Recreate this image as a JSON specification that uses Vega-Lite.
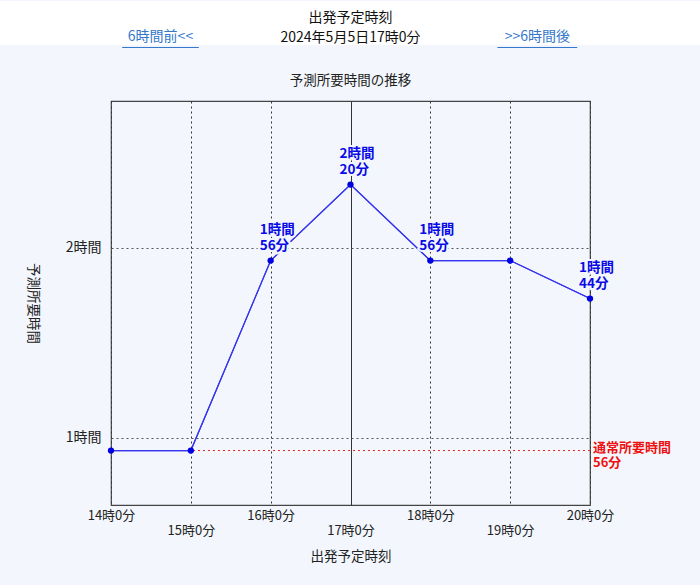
{
  "$schema": "https://vega.github.io/schema/vega-lite/v6.json",
  "width": 479,
  "height": 404,
  "autosize": {"type": "none"},
  "padding": {"left": 111, "top": 101, "right": 110, "bottom": 80},
  "background": "#f3f7fd",
  "config": {
    "font": "Noto Sans CJK JP",
    "view": {"stroke": "#444444", "strokeWidth": 1.2, "fill": "#f3f7fd"},
    "axis": {"labelFont": "Noto Sans CJK JP", "titleFont": "Noto Sans CJK JP", "labelColor": "#222222", "titleColor": "#222222", "labelFontSize": 13, "titleFontSize": 13.5, "titleFontWeight": "normal"}
  },
  "title": {
    "text": ["出発予定時刻", "2024年5月5日17時0分"],
    "subtitle": "予測所要時間の推移",
    "fontSize": 14,
    "fontWeight": "normal",
    "lineHeight": 20,
    "color": "#111111",
    "subtitleFontSize": 13.5,
    "subtitleColor": "#222222",
    "subtitlePadding": 29,
    "offset": -87,
    "anchor": "middle"
  },
  "datasets": {
    "series": [
      {"hour": 14, "minutes": 56, "label": ""},
      {"hour": 15, "minutes": 56, "label": ""},
      {"hour": 16, "minutes": 116, "label": "1時間\n56分"},
      {"hour": 17, "minutes": 140, "label": "2時間\n20分"},
      {"hour": 18, "minutes": 116, "label": "1時間\n56分"},
      {"hour": 19, "minutes": 116, "label": ""},
      {"hour": 20, "minutes": 104, "label": "1時間\n44分"}
    ],
    "normal": [
      {"hour": 20, "minutes": 56, "label": "通常所要時間\n56分"}
    ],
    "band": [
      {"h1": 12.5, "h2": 21.5, "m1": 184.1, "m2": 198}
    ],
    "links": [
      {"hour": 14.62, "hour2": 14.14, "hour3": 15.1, "minutes": 186.5, "under": 183.3, "label": "6時間前<<"},
      {"hour": 19.34, "hour2": 18.84, "hour3": 19.84, "minutes": 186.5, "under": 183.3, "label": ">>6時間後"}
    ]
  },
  "layer": [
    {
      "data": {"name": "band"},
      "mark": {"type": "rect", "color": "#ffffff", "opacity": 1},
      "encoding": {
        "x": {"field": "h1", "type": "quantitative"},
        "x2": {"field": "h2"},
        "y": {"field": "m1", "type": "quantitative"},
        "y2": {"field": "m2"}
      }
    },
    {
      "data": {"name": "series"},
      "mark": {"type": "line", "color": "#3535ee", "strokeWidth": 1.2},
      "encoding": {
        "x": {
          "field": "hour", "type": "quantitative",
          "scale": {"domain": [14, 20], "nice": false, "zero": false},
          "axis": {
            "values": [14, 15, 16, 17, 18, 19, 20],
            "labelExpr": "datum.value % 2 == 1 ? ['', datum.value + '時0分'] : datum.value + '時0分'",
            "labelLineHeight": 15,
            "labelOverlap": false,
            "labelFlush": false,
            "labelPadding": 4,
            "ticks": false,
            "domain": false,
            "grid": true,
            "gridColor": "#333333",
            "gridWidth": 1,
            "gridDash": {"condition": {"test": "datum.value == 17", "value": []}, "value": [2, 3]},
            "title": "出発予定時刻",
            "titlePadding": 12
          }
        },
        "y": {
          "field": "minutes", "type": "quantitative",
          "scale": {"domain": [38.8, 166.4], "nice": false, "zero": false},
          "axis": {
            "values": [60, 120],
            "labelExpr": "(datum.value / 60) + '時間'",
            "labelPadding": 10,
            "labelFontSize": 14,
            "ticks": false,
            "domain": false,
            "grid": true,
            "gridColor": "#555555",
            "gridDash": [2, 3],
            "title": "予測所要時間",
            "titleAngle": 90,
            "titlePadding": 40
          }
        }
      }
    },
    {
      "data": {"name": "normal"},
      "mark": {"type": "rule", "color": "#ee2222", "strokeDash": [2, 3], "strokeWidth": 1},
      "encoding": {
        "y": {"field": "minutes", "type": "quantitative"}
      }
    },
    {
      "data": {"name": "series"},
      "mark": {"type": "line", "color": "#3535ee", "strokeWidth": 1.2},
      "encoding": {
        "x": {"field": "hour", "type": "quantitative"},
        "y": {"field": "minutes", "type": "quantitative"}
      }
    },
    {
      "data": {"name": "series"},
      "mark": {"type": "point", "filled": true, "color": "#0000e0", "size": 40, "opacity": 1},
      "encoding": {
        "x": {"field": "hour", "type": "quantitative"},
        "y": {"field": "minutes", "type": "quantitative"}
      }
    },
    {
      "data": {"name": "series"},
      "transform": [{"filter": "datum.label != ''"}],
      "mark": {"type": "text", "align": "left", "baseline": "top", "dx": -11, "dy": -38, "lineBreak": "\n", "lineHeight": 16, "fontSize": 13.5, "fontWeight": "bold", "color": "#f3f7fd", "stroke": "#f3f7fd", "strokeWidth": 4},
      "encoding": {
        "x": {"field": "hour", "type": "quantitative"},
        "y": {"field": "minutes", "type": "quantitative"},
        "text": {"field": "label"}
      }
    },
    {
      "data": {"name": "series"},
      "transform": [{"filter": "datum.label != ''"}],
      "mark": {"type": "text", "align": "left", "baseline": "top", "dx": -11, "dy": -38, "lineBreak": "\n", "lineHeight": 16, "fontSize": 13.5, "fontWeight": "bold", "color": "#0a0ae6"},
      "encoding": {
        "x": {"field": "hour", "type": "quantitative"},
        "y": {"field": "minutes", "type": "quantitative"},
        "text": {"field": "label"}
      }
    },
    {
      "data": {"name": "normal"},
      "mark": {"type": "text", "align": "left", "baseline": "top", "dx": 3, "dy": -9, "lineBreak": "\n", "lineHeight": 15, "fontSize": 13, "fontWeight": "bold", "color": "#ee1111"},
      "encoding": {
        "x": {"field": "hour", "type": "quantitative"},
        "y": {"field": "minutes", "type": "quantitative"},
        "text": {"field": "label"}
      }
    },
    {
      "data": {"name": "links"},
      "mark": {"type": "text", "align": "center", "baseline": "middle", "fontSize": 14, "color": "#3377cc"},
      "encoding": {
        "x": {"field": "hour", "type": "quantitative"},
        "y": {"field": "minutes", "type": "quantitative"},
        "text": {"field": "label"}
      }
    },
    {
      "data": {"name": "links"},
      "mark": {"type": "rule", "color": "#3377cc", "strokeWidth": 1},
      "encoding": {
        "x": {"field": "hour2", "type": "quantitative"},
        "x2": {"field": "hour3"},
        "y": {"field": "under", "type": "quantitative"}
      }
    }
  ]
}
